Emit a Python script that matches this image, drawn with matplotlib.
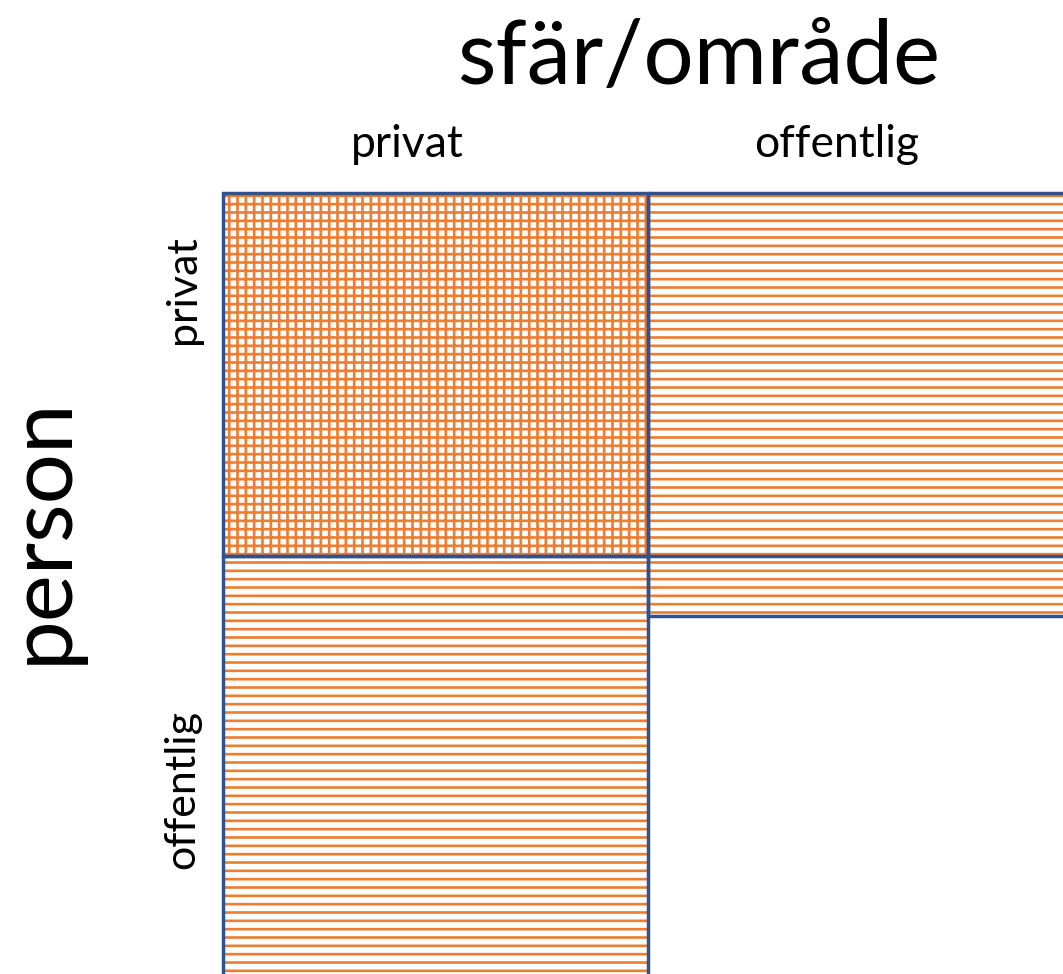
import matplotlib
matplotlib.use("Agg")
import matplotlib.pyplot as plt
from matplotlib.patches import Rectangle

# category labels
title = "sfär/område"
row_title = "person"
col_labels = ["privat", "offentlig"]
row_labels = ["privat", "offentlig"]

# cells: (column, row, hatch pattern, height in row units)
cell_cols = [0, 1, 0]
cell_rows = [0, 0, 1]
cell_hatch = ["++", "--", "--"]
cell_height = [1.0, 1.165, 1.2]

orange = "#ED7D31"
blue = "#2F528F"

plt.rcParams["font.family"] = ["Lato", "DejaVu Sans"]
plt.rcParams["hatch.linewidth"] = 1.9

fig = plt.figure(figsize=(10.63, 9.74), dpi=100)
ax = fig.add_axes([0, 0, 1, 1])
ax.set_xlim(-223 / 425, 1063 / 425 - 223 / 425)
ax.set_ylim(974 / 363 - 193 / 363, -193 / 363)
ax.axis("off")

for c, r, h, hh in zip(cell_cols, cell_rows, cell_hatch, cell_height):
    w = 1.0 if c == 0 else 1.2
    ax.add_patch(Rectangle((c, r), w, hh, facecolor="white", edgecolor=orange,
                           hatch=h, linewidth=0, zorder=1))
    ax.add_patch(Rectangle((c, r), w, hh, facecolor="none", edgecolor=blue,
                           linewidth=2.5, zorder=3))

# row boundary across the right column
ax.plot([1, 2], [1, 1], color=blue, linewidth=2.5, zorder=3)

ax.text(1.12, -0.37, title, fontsize=64, ha="center", va="center")
ax.text(-0.426, 0.928, row_title, fontsize=64, ha="center", va="center", rotation=90)

col_x = [0.433, 1.445]
for x, lab in zip(col_x, col_labels):
    ax.text(x, -0.133, lab, fontsize=32, ha="center", va="center")

row_y = [0.267, 1.642]
for y, lab in zip(row_y, row_labels):
    ax.text(-0.095, y, lab, fontsize=31, ha="center", va="center", rotation=90)

fig.savefig("out.png", dpi=100)
